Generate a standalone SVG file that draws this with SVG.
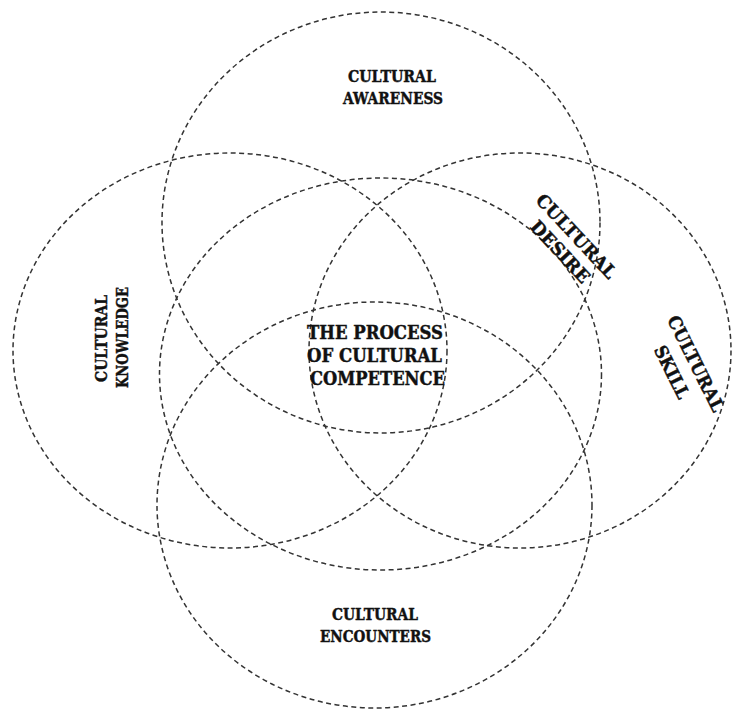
<svg xmlns="http://www.w3.org/2000/svg" width="732" height="711" viewBox="0 0 732 711">
<style>
.ring{fill:none;stroke:#333;stroke-width:1.5;stroke-dasharray:5 3.5}
.lbl{font-family:"DejaVu Serif","Liberation Serif",serif;font-weight:bold;fill:#111;stroke:#111;stroke-width:0.45;text-anchor:middle;font-size:16px}
.big{font-size:18px}
</style>
<rect width="732" height="711" fill="#fff"/>
<g id="awareness">
<ellipse class="ring" cx="381" cy="222.5" rx="219" ry="210.5"/>
<text class="lbl" x="392" y="82" textLength="88" lengthAdjust="spacingAndGlyphs">CULTURAL</text>
<text class="lbl" x="393" y="104" textLength="100" lengthAdjust="spacingAndGlyphs">AWARENESS</text>
</g>
<g id="knowledge">
<ellipse class="ring" cx="230" cy="350.5" rx="217" ry="197.5"/>
<text class="lbl" transform="translate(107,338.5) rotate(-90)" textLength="87" lengthAdjust="spacingAndGlyphs">CULTURAL</text>
<text class="lbl" transform="translate(128,337.5) rotate(-90)" textLength="101" lengthAdjust="spacingAndGlyphs">KNOWLEDGE</text>
</g>
<g id="skill">
<ellipse class="ring" cx="520" cy="350.5" rx="211" ry="197.5"/>
<text class="lbl big" transform="translate(690.1,366.4) rotate(63.5)" textLength="105" lengthAdjust="spacingAndGlyphs">CULTURAL</text>
<text class="lbl big" transform="translate(666.1,374.9) rotate(63.5)" textLength="57" lengthAdjust="spacingAndGlyphs">SKILL</text>
</g>
<g id="encounters">
<ellipse class="ring" cx="374.5" cy="505" rx="217.5" ry="203"/>
<text class="lbl" x="375" y="620" textLength="86" lengthAdjust="spacingAndGlyphs">CULTURAL</text>
<text class="lbl" x="375.5" y="642" textLength="111" lengthAdjust="spacingAndGlyphs">ENCOUNTERS</text>
</g>
<g id="desire">
<ellipse class="ring" cx="380.5" cy="374" rx="221" ry="196"/>
<text class="lbl big" transform="translate(571.7,240.5) rotate(47)" textLength="108" lengthAdjust="spacingAndGlyphs">CULTURAL</text>
<text class="lbl big" transform="translate(555.7,256) rotate(47)" textLength="78" lengthAdjust="spacingAndGlyphs">DESIRE</text>
</g>
<g id="competence">
<text class="lbl big" x="375" y="339" textLength="136" lengthAdjust="spacingAndGlyphs">THE PROCESS</text>
<text class="lbl big" x="374.5" y="362" textLength="135" lengthAdjust="spacingAndGlyphs">OF CULTURAL</text>
<text class="lbl big" x="377.5" y="385" textLength="135" lengthAdjust="spacingAndGlyphs">COMPETENCE</text>
</g>
</svg>
